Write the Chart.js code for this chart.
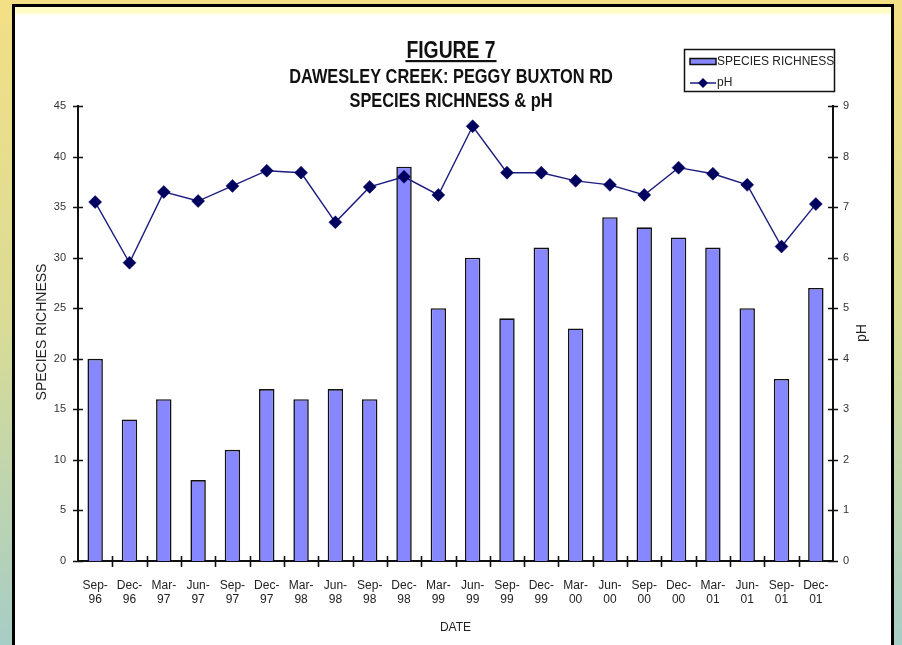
<!DOCTYPE html>
<html>
<head>
<meta charset="utf-8">
<script src="https://cdn.jsdelivr.net/npm/chart.js@4.4.1/dist/chart.umd.min.js"></script>
<style>
  body { margin: 0; width: 902px; height: 645px; overflow: hidden;
         background: linear-gradient(#f3df85, #d9dc96 50%, #a6cdc6); }
  #panel { position: absolute; left: 12px; top: 4px; width: 876px; height: 680px;
           border: 3px solid #000; background: linear-gradient(#fffcc6 0, #fffcc6 5px, #fff 9px); }
  #chart { position: absolute; left: 0; top: 0; }
</style>
</head>
<body>
<div id="panel"></div>
<canvas id="chart" width="902" height="645"></canvas>
<script>
var dates = [
  ["Sep-", "96"], ["Dec-", "96"], ["Mar-", "97"], ["Jun-", "97"], ["Sep-", "97"], ["Dec-", "97"],
  ["Mar-", "98"], ["Jun-", "98"], ["Sep-", "98"], ["Dec-", "98"], ["Mar-", "99"], ["Jun-", "99"],
  ["Sep-", "99"], ["Dec-", "99"], ["Mar-", "00"], ["Jun-", "00"], ["Sep-", "00"], ["Dec-", "00"],
  ["Mar-", "01"], ["Jun-", "01"], ["Sep-", "01"], ["Dec-", "01"]
];
var speciesRichness = [20, 14, 16, 8, 11, 17, 16, 17, 16, 39, 25, 30, 24, 31, 23, 34, 33, 32, 31, 25, 18, 27];
var phValues = [7.1, 5.9, 7.3, 7.12, 7.42, 7.72, 7.68, 6.7, 7.4, 7.6, 7.24, 8.6,
                7.68, 7.68, 7.52, 7.44, 7.24, 7.78, 7.66, 7.44, 6.22, 7.06];
var titleLines = ["FIGURE 7", "DAWESLEY CREEK: PEGGY BUXTON RD", "SPECIES RICHNESS & pH"];

var SANS = "'Liberation Sans', Arial, sans-serif";
var barFill = "#8787ff";
var lineCol = "#1c1c80";
var markCol = "#00005e";

// condensed bold text: squeeze the regular face horizontally
function narrowText(ctx, text, cx, baseline, size, squeeze) {
  ctx.save();
  ctx.font = "bold " + size + "px " + SANS;
  ctx.translate(cx, baseline);
  ctx.scale(squeeze, 1);
  ctx.fillText(text, 0, 0);
  var w = ctx.measureText(text).width * squeeze;
  ctx.restore();
  return w;
}

// tick marks crossing the axis lines, titles, axis titles and the boxed legend
var decorations = {
  id: "decorations",
  afterDraw: function (chart) {
    var ctx = chart.ctx;
    var x = chart.scales.x, y = chart.scales.y, y1 = chart.scales.y1;
    var area = chart.chartArea;
    var bars = chart.data.datasets[0], line = chart.data.datasets[1];
    ctx.save();
    ctx.strokeStyle = "#111";
    ctx.lineWidth = 1.6;
    ctx.beginPath();
    y.ticks.forEach(function (t) {
      var py = Math.round(y.getPixelForValue(t.value)) + 0.5;
      ctx.moveTo(area.left - 5, py); ctx.lineTo(area.left + 5, py);
    });
    y1.ticks.forEach(function (t) {
      var py = Math.round(y1.getPixelForValue(t.value)) + 0.5;
      ctx.moveTo(area.right - 5, py); ctx.lineTo(area.right + 5, py);
    });
    for (var i = 1; i < dates.length; i++) {
      var px = Math.round((x.getPixelForValue(i - 1) + x.getPixelForValue(i)) / 2) + 0.5;
      ctx.moveTo(px, area.bottom - 5); ctx.lineTo(px, area.bottom + 6);
    }
    ctx.stroke();

    // chart titles
    ctx.fillStyle = "#111";
    ctx.textAlign = "center";
    ctx.textBaseline = "alphabetic";
    var cx = 451;
    var w = narrowText(ctx, titleLines[0], cx, 58, 23, 0.84);
    ctx.fillRect(cx - w / 2 - 1, 60, w + 2, 2.2);
    narrowText(ctx, titleLines[1], cx, 83, 19.5, 0.84);
    narrowText(ctx, titleLines[2], cx, 107, 19.5, 0.84);

    // axis titles
    ctx.font = "14px " + SANS;
    ctx.fillStyle = "#222";
    ctx.textBaseline = "middle";
    ctx.save();
    ctx.translate(42, 332);
    ctx.rotate(-Math.PI / 2);
    ctx.fillText(bars.label, 0, 0);
    ctx.restore();
    ctx.save();
    ctx.translate(862, 333);
    ctx.rotate(-Math.PI / 2);
    ctx.fillText(line.label, 0, 0);
    ctx.restore();
    ctx.font = "12px " + SANS;
    ctx.fillText("DATE", (area.left + area.right) / 2, 628);

    // legend box
    ctx.fillStyle = "#fff";
    ctx.fillRect(684, 49, 151, 43);
    ctx.lineWidth = 1.5;
    ctx.strokeStyle = "#111";
    ctx.strokeRect(684.5, 49.5, 150, 42);
    ctx.fillStyle = barFill;
    ctx.fillRect(690, 58.5, 26, 6);
    ctx.strokeRect(690, 58.5, 26, 6);
    ctx.strokeStyle = lineCol;
    ctx.lineWidth = 1.5;
    ctx.beginPath();
    ctx.moveTo(690, 83); ctx.lineTo(716, 83);
    ctx.stroke();
    ctx.fillStyle = markCol;
    ctx.beginPath();
    ctx.moveTo(703, 78); ctx.lineTo(708, 83); ctx.lineTo(703, 88); ctx.lineTo(698, 83);
    ctx.closePath();
    ctx.fill();
    ctx.fillStyle = "#222";
    ctx.textAlign = "left";
    ctx.font = "12px " + SANS;
    ctx.fillText(bars.label, 717, 62);
    ctx.fillText(line.label, 717, 83);
    ctx.restore();
  }
};

new Chart(document.getElementById("chart"), {
  type: "bar",
  data: {
    labels: dates,
    datasets: [
      {
        label: "SPECIES RICHNESS",
        data: speciesRichness,
        yAxisID: "y",
        backgroundColor: barFill,
        borderColor: "#111",
        borderWidth: 1.6,
        categoryPercentage: 1,
        barPercentage: 0.45,
        order: 2
      },
      {
        type: "line",
        label: "pH",
        data: phValues,
        yAxisID: "y1",
        borderColor: lineCol,
        borderWidth: 1.4,
        pointStyle: "rectRot",
        pointRadius: 6.5,
        pointBorderWidth: 0.5,
        pointBackgroundColor: markCol,
        pointBorderColor: markCol,
        tension: 0,
        order: 1
      }
    ]
  },
  plugins: [decorations],
  options: {
    responsive: false,
    animation: false,
    layout: { padding: { top: 106, left: 0, right: 0, bottom: 0 } },
    plugins: { legend: { display: false }, tooltip: { enabled: false } },
    scales: {
      x: {
        grid: { display: false, drawTicks: false },
        border: { display: true, color: "#111", width: 2 },
        ticks: { color: "#222", font: { family: SANS, size: 12 }, padding: 17,
                 maxRotation: 0, autoSkip: false },
        afterFit: function (s) { s.height = 84; }
      },
      y: {
        position: "left",
        min: 0, max: 45,
        grid: { display: false, drawTicks: false },
        border: { display: true, color: "#111", width: 2 },
        ticks: { stepSize: 5, color: "#333", font: { family: SANS, size: 11 }, padding: 12 },
        afterFit: function (s) { s.width = 78; }
      },
      y1: {
        position: "right",
        min: 0, max: 9,
        grid: { display: false, drawTicks: false },
        border: { display: true, color: "#111", width: 2 },
        ticks: { stepSize: 1, color: "#333", font: { family: SANS, size: 11 }, padding: 10 },
        afterFit: function (s) { s.width = 69; }
      }
    }
  }
});
</script>
</body>
</html>
